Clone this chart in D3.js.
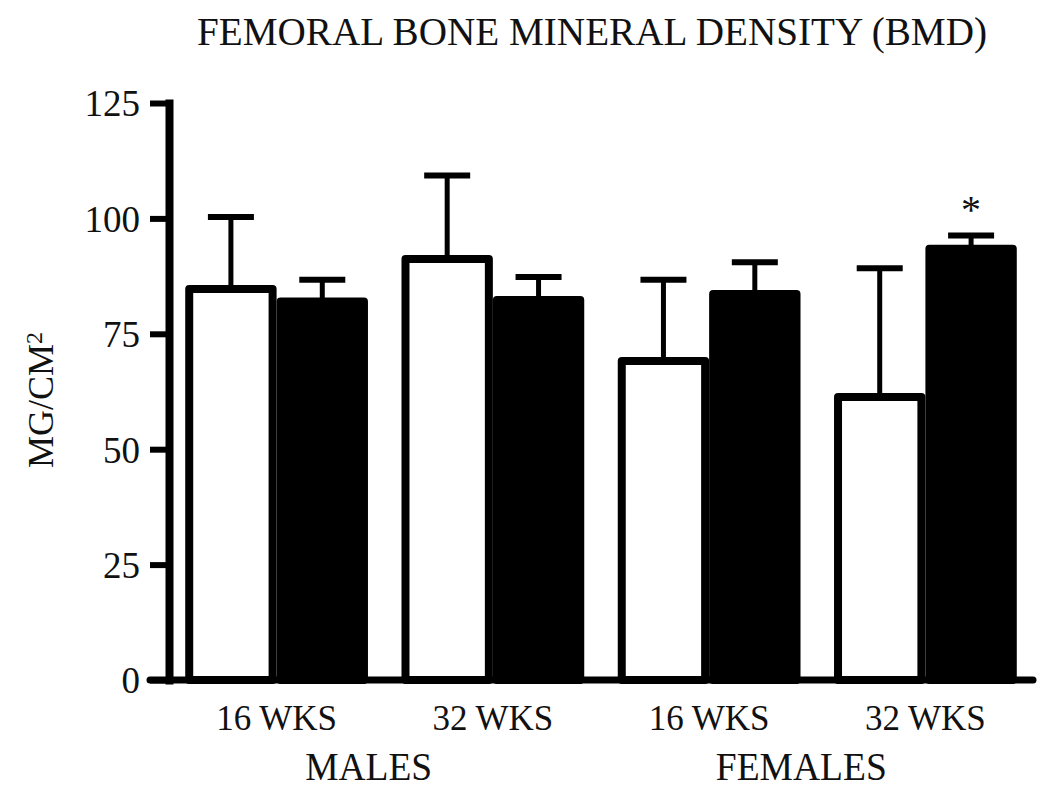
<!DOCTYPE html>
<html>
<meta charset="utf-8">
<style>
body { margin: 0; background: #fff; }
text { font-family: "Liberation Serif", "Times New Roman", serif; fill: #111; }
.axis text { font-size: 37px; }
.axis line { stroke: #000; stroke-width: 6px; }
.axis path { stroke: #000; stroke-width: 8px; }
</style>
<body>
<svg width="1050" height="793"></svg>
<script src="https://cdnjs.cloudflare.com/ajax/libs/d3/7.8.5/d3.min.js"></script>
<script>

var groups = ["M16", "M32", "F16", "F32"];
var groupLabels = ["16 WKS", "32 WKS", "16 WKS", "32 WKS"];
var sexes = ["MALES", "FEMALES"];
var series = ["control", "treated"];
var controlMean = [84.7, 91.2, 69.1, 61.3];
var controlErr  = [15.6, 18.1, 17.6, 27.9];
var treatedMean = [82.0, 82.3, 83.6, 93.4];
var treatedErr  = [4.7, 5.0, 6.9, 2.9];
var significant = [false, false, false, true];
var yTicks = [0, 25, 50, 75, 100, 125];

var svg = d3.select("svg");

var x = d3.scaleBand()
    .domain(groups)
    .range([169, 1033])
    .paddingInner(0.155)
    .paddingOuter(0.075);

var xs = d3.scaleBand()
    .domain(series)
    .range([0, x.bandwidth()]);

var y = d3.scaleLinear()
    .domain([0, 125])
    .range([680, 103]);

// data rows
var rows = [];
groups.forEach(function(g, i) {
  rows.push({group: g, s: "control", mean: controlMean[i], err: controlErr[i], star: false});
  rows.push({group: g, s: "treated", mean: treatedMean[i], err: treatedErr[i], star: significant[i]});
});

// error bars first (stem hidden under bar)
var sw = 8;
var eb = svg.append("g").selectAll("g")
    .data(rows)
  .enter().append("g")
    .attr("transform", function(d) { return "translate(" + (x(d.group) + xs(d.s) + xs.bandwidth() / 2) + ",0)"; });

eb.append("line")
    .attr("y1", function(d) { return y(d.mean); })
    .attr("y2", function(d) { return y(d.mean + d.err); })
    .attr("stroke", "#000")
    .attr("stroke-width", 5);

eb.append("line")
    .attr("x1", -23).attr("x2", 23)
    .attr("y1", function(d) { return y(d.mean + d.err); })
    .attr("y2", function(d) { return y(d.mean + d.err); })
    .attr("stroke", "#000")
    .attr("stroke-width", 6);

// bars: white first, black on top
svg.append("g").selectAll("rect")
    .data(rows.filter(function(d) { return d.s == "control"; }).concat(rows.filter(function(d) { return d.s == "treated"; })))
  .enter().append("rect")
    .attr("x", function(d) { return x(d.group) + xs(d.s) + sw / 2; })
    .attr("width", xs.bandwidth() - sw)
    .attr("y", function(d) { return y(d.mean); })
    .attr("height", function(d) { return y(0) - y(d.mean); })
    .attr("fill", function(d) { return d.s == "control" ? "#fff" : "#000"; })
    .attr("stroke", "#000")
    .attr("stroke-width", sw)
    .attr("stroke-linejoin", "round");

// significance star
svg.append("g").selectAll("text")
    .data(rows.filter(function(d) { return d.star; }))
  .enter().append("text")
    .attr("x", function(d) { return x(d.group) + xs(d.s) + xs.bandwidth() / 2; })
    .attr("y", function(d) { return y(d.mean + d.err) - 12; })
    .attr("text-anchor", "middle")
    .style("font-size", "40px")
    .text("*");

// y axis
var yAxis = svg.append("g")
    .attr("class", "axis")
    .attr("transform", "translate(169,0)")
    .call(d3.axisLeft(y).tickValues(yTicks).tickSize(19).tickSizeOuter(0).tickPadding(10));
yAxis.selectAll("text").attr("fill", "#111").attr("dy", "0.35em");
yAxis.select(".domain").attr("stroke-linecap", "square");

// x axis line
svg.append("line")
    .attr("x1", 150).attr("x2", x.range()[1])
    .attr("y1", y(0)).attr("y2", y(0))
    .attr("stroke", "#000")
    .attr("stroke-width", 7)
    .attr("stroke-linecap", "round");

// group labels
svg.append("g").selectAll("text")
    .data(groups)
  .enter().append("text")
    .attr("x", function(d) { return x(d) + x.bandwidth() / 2; })
    .attr("y", 730)
    .attr("text-anchor", "middle")
    .style("font-size", "35px")
    .text(function(d, i) { return groupLabels[i]; });

svg.append("g").selectAll("text")
    .data(sexes)
  .enter().append("text")
    .attr("x", function(d, i) {
      var a = groups[i * 2], b = groups[i * 2 + 1];
      return (x(a) + x(b) + x.bandwidth()) / 2 - 16;
    })
    .attr("y", 780)
    .attr("text-anchor", "middle")
    .attr("textLength", function(d) { return d == "MALES" ? 127 : 171; })
    .attr("lengthAdjust", "spacingAndGlyphs")
    .style("font-size", "40px")
    .text(function(d) { return d; });

// title
svg.append("text")
    .attr("x", 592)
    .attr("y", 45)
    .attr("text-anchor", "middle")
    .attr("textLength", 790)
    .attr("lengthAdjust", "spacingAndGlyphs")
    .style("font-size", "41px")
    .text("FEMORAL BONE MINERAL DENSITY (BMD)");

// y label
var yl = svg.append("text")
    .attr("transform", "translate(53,400) rotate(-90)")
    .attr("text-anchor", "middle")
    .style("font-size", "36px");
yl.append("tspan").text("MG/CM");
yl.append("tspan").attr("dy", "-0.45em").style("font-size", "24px").text("2");

</script>
</body>
</html>
